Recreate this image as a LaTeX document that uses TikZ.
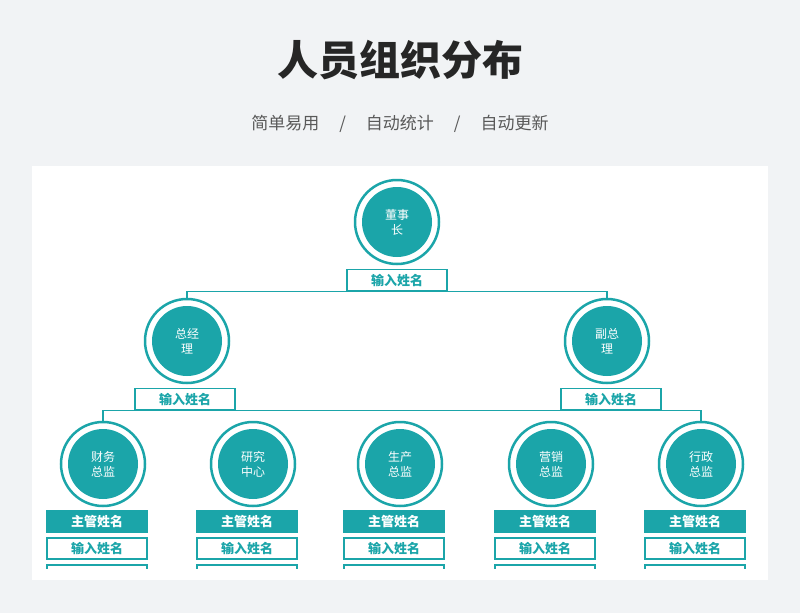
\documentclass[tikz,border=0pt]{standalone}
\usepackage{fontspec}
\setmainfont{Noto Sans CJK SC}
\usetikzlibrary{positioning}
\definecolor{teal1}{HTML}{1BA5A9}
\definecolor{bgray}{HTML}{F1F3F5}

\begin{document}
\begin{tikzpicture}[x=1pt, y=-1pt,
    ring/.style={circle, draw=teal1, line width=2.5pt, fill=white, minimum size=84pt, inner sep=0pt},
    core/.style={circle, fill=teal1, minimum size=70pt, inner sep=0pt, text=white, font=\fontsize{12}{15}\selectfont, align=center},
    namebox/.style={rectangle, draw=teal1, line width=1.2pt, fill=white, minimum width=100pt, minimum height=21pt, inner sep=0pt, text=teal1, font=\fontsize{13}{15}\selectfont\bfseries},
    headbox/.style={namebox, fill=teal1, text=white},
    link/.style={draw=teal1, line width=1.2pt}
]

% Background
\fill[bgray] (0,0) rectangle (800,613);
\fill[white] (32,166) rectangle (768,580);
\useasboundingbox (0,0) rectangle (800,613);

% Title
\node[font=\fontsize{41}{46}\selectfont\bfseries, text=black!85] (title) at (400,60) {人员组织分布};
\node[font=\fontsize{17}{20}\selectfont, text=black!65] (sub) at (400,124) {简单易用\hspace{20pt}/\hspace{20pt}自动统计\hspace{20pt}/\hspace{20pt}自动更新};

% Chairman
\node[ring] (boss) at (397,222) {};
\node[core] at (boss) {董事\\长};
\node[namebox] (bossname) at (397,280) {输入姓名};

% Second level
\node[ring] (gm) at (187,341) {};
\node[core] at (gm) {总经\\理};
\node[namebox] (gmname) at (185,399) {输入姓名};
\node[ring] (vp) at (607,341) {};
\node[core] at (vp) {副总\\理};
\node[namebox] (vpname) at (611,399) {输入姓名};

% Third level
\foreach \x/\nm/\lbl in {103/fin/财务\\总监, 253/rnd/研究\\中心, 400/prod/生产\\总监, 551/mkt/营销\\总监, 701/adm/行政\\总监}{
  \node[ring] (\nm) at (\x,464) {};
  \node[core] at (\nm) {\lbl};
  \node[headbox] (\nm head) at (\x-6,521.5) {主管姓名};
  \node[namebox] (\nm name) at (\x-6,548.5) {输入姓名};
  \begin{scope}
    \clip (32,560) rectangle (768,568);
    \node[namebox] (\nm more) at (\x-6,575.5) {};
  \end{scope}
}

% Connectors
\coordinate (bar1) at (bossname.south);
\draw[link] (gm.north) |- (bar1) -| (vp.north);
\coordinate (bar2) at (gmname.south);
\draw[link] (fin.north) |- (bar2) -| (adm.north);
\draw[link] (vpname.south) |- (bar2);

\end{tikzpicture}
\end{document}
